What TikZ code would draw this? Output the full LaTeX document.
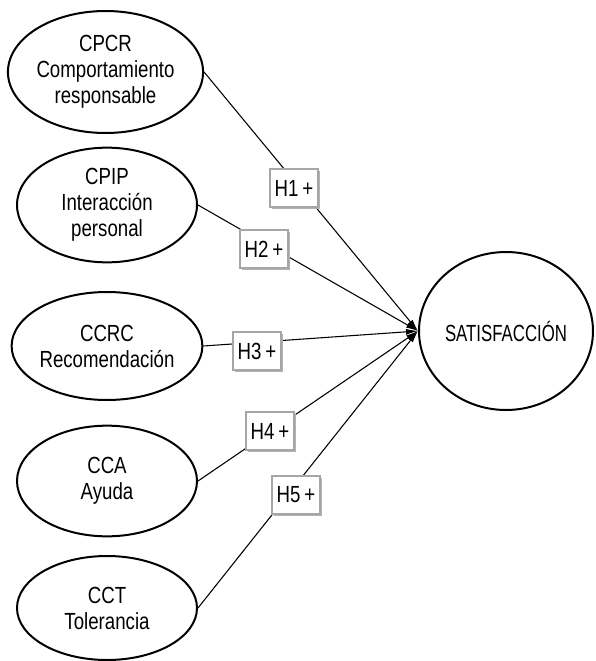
\documentclass[tikz,border=0pt]{standalone}
\usepackage{fontspec}
\setmainfont{Liberation Sans}[FakeStretch=0.8]
\usetikzlibrary{shapes.geometric,arrows.meta,shadows}
\begin{document}
\begin{tikzpicture}[x=0.75pt,y=-0.75pt,
  txt/.style={font=\fontsize{17.5}{19.5}\selectfont, align=center},
  oval/.style={ellipse, draw, line width=1.5pt, inner sep=0pt, fill=white, txt},
  conn/.style={line width=0.8pt, -{Latex[length=9pt,width=4.5pt]}},
  hbox/.style={draw=gray!70, line width=0.8pt, fill=white, txt,
     minimum width=36pt, minimum height=28.5pt, inner sep=0pt,
     drop shadow={shadow xshift=1.5pt, shadow yshift=-1.5pt, fill=gray!60, opacity=1}}]
\useasboundingbox (0,0) rectangle (596,661);
\node[oval, minimum width=134pt, minimum height=91.5pt] (cpcr) at (105.5,72) {CPCR\\Comportamiento\\responsable};
\node[oval, minimum width=135pt, minimum height=86pt] (cpip) at (107,205) {CPIP\\Interacción\\personal};
\node[oval, minimum width=135pt, minimum height=81pt] (ccrc) at (107,346) {CCRC\\Recomendación};
\node[oval, minimum width=135pt, minimum height=83pt] (cca) at (107,481) {CCA\\Ayuda};
\node[oval, minimum width=135pt, minimum height=78pt] (cct) at (107,608) {CCT\\Tolerancia};
\node[oval, minimum width=130.5pt, minimum height=118.5pt] (sat) at (506,331) {\addfontfeature{FakeStretch=0.72}SATISFACCIÓN};
\draw[conn] (cpcr.east) -- (sat.west);
\draw[conn] (cpip.east) -- (sat.west);
\draw[conn] (ccrc.east) -- (sat.west);
\draw[conn] (cca.east) -- (sat.west);
\draw[conn] (cct.east) -- (sat.west);
\node[hbox] (h1) at (294,188) {H1\,+};
\node[hbox] (h2) at (264,249) {H2\,+};
\node[hbox] (h3) at (257,351) {H3\,+};
\node[hbox] (h4) at (270,431) {H4\,+};
\node[hbox] (h5) at (296,495) {H5\,+};
\end{tikzpicture}
\end{document}
